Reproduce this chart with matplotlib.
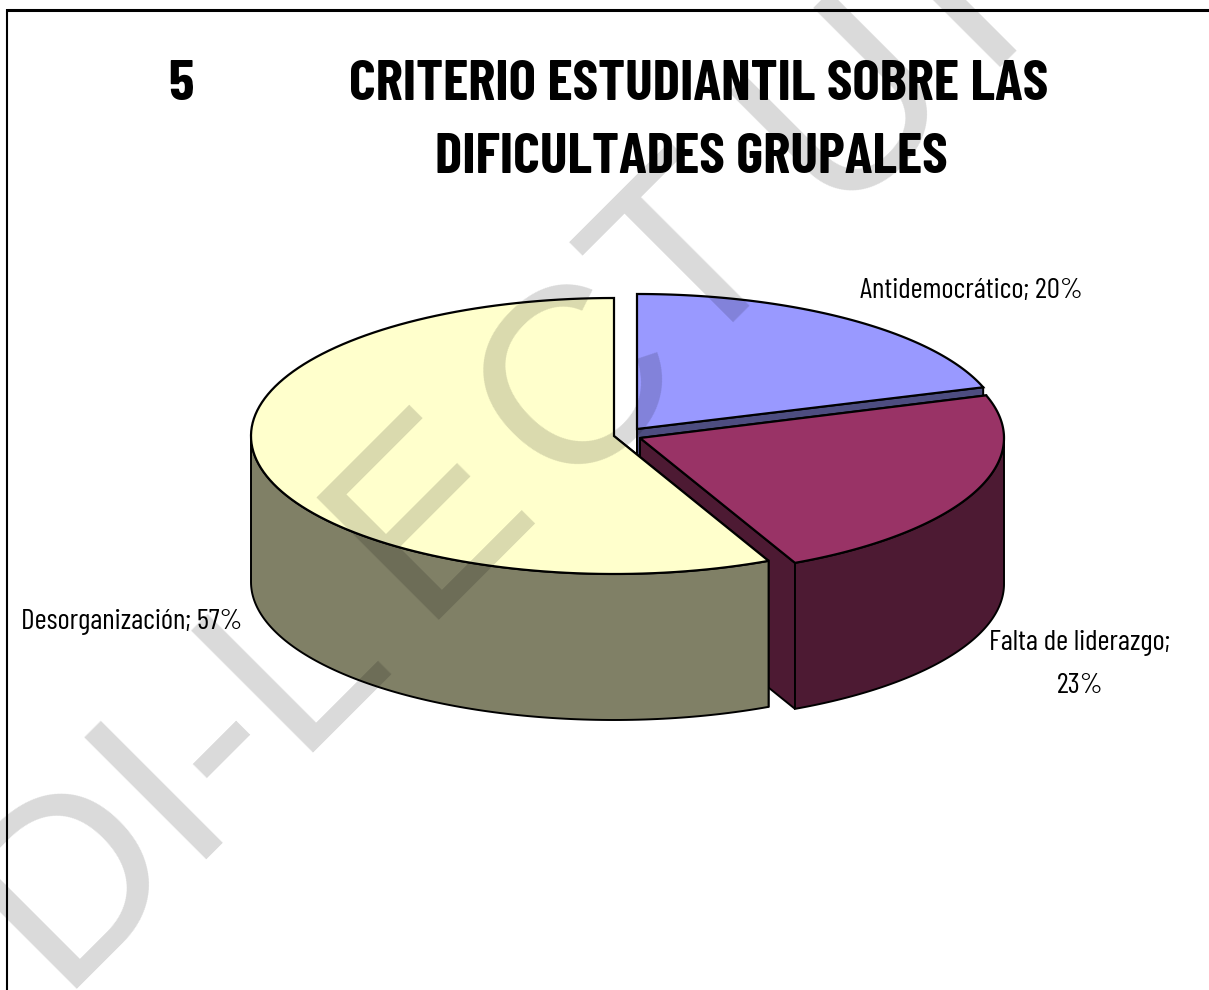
import matplotlib
matplotlib.use("Agg")
import matplotlib.pyplot as plt
import numpy as np
from matplotlib.patches import Polygon

categories = ["Antidemocrático", "Falta de liderazgo", "Desorganización"]
values = [20, 23, 57]
top_colors = ["#9999FF", "#993366", "#FFFFCC"]
side_colors = ["#4D4D80", "#4D1A33", "#808066"]
# centro de cada fatia (fatias separadas), em pixels
centers = [(637, 429), (640, 438), (614, 436)]
radii = [(364, 135), (364, 138), (363, 138)]
depth = 146
W, H = 1209, 990

fig = plt.figure(figsize=(W / 100, H / 100), dpi=100)
ax = fig.add_axes([0, 0, 1, 1])
ax.set_xlim(0, W)
ax.set_ylim(H, 0)
ax.axis("off")

def rim(center, radius, a0, a1, n=120):
    t = np.radians(np.linspace(a0, a1, n))
    return np.column_stack([center[0] + radius[0] * np.sin(t), center[1] - radius[1] * np.cos(t)])

def shifted(pts):
    return pts + np.array([0, depth])

edges = np.cumsum([0] + values) * 3.6
for i in range(3):
    c, r = centers[i], radii[i]
    a0, a1 = edges[i], edges[i + 1]
    arc = rim(c, r, a0, a1)
    apex = np.array([c])
    # parede radial e parede externa, depois o topo
    for a in (a0, a1):
        p = rim(c, r, a, a, 1)
        wall = np.vstack([apex, p, shifted(p), shifted(apex)])
        ax.add_patch(Polygon(wall, fc=side_colors[i], ec="black", lw=1.4, zorder=i * 3 + 1))
    lo, hi = max(a0, 90), min(a1, 270)
    if hi > lo:
        front = rim(c, r, lo, hi)
        ax.add_patch(Polygon(np.vstack([front, shifted(front)[::-1]]), fc=side_colors[i], ec="black", lw=1.4, zorder=i * 3 + 2))
    ax.add_patch(Polygon(np.vstack([apex, arc]), fc=top_colors[i], ec="black", lw=1.6, zorder=i * 3 + 3))

# moldura
ax.plot([7, W], [9.5, 9.5], color="black", lw=2.2, solid_capstyle="butt", zorder=20)
ax.plot([7, 7], [9, H], color="black", lw=1.5, solid_capstyle="butt", zorder=20)

ttl = dict(family=["Barlow Condensed", "Liberation Sans"], weight="bold", color="black", ha="center", va="baseline", fontsize=41.5, zorder=21)
ax.text(181, 100, "5", **ttl)
ax.text(699, 100, "CRITERIO ESTUDIANTIL SOBRE LAS", **ttl)
ax.text(691, 173, "DIFICULTADES GRUPALES", **ttl)

lab = dict(family=["Barlow Condensed", "Liberation Sans"], color="black", ha="center", va="baseline", fontsize=21, zorder=21)
ax.text(971, 298, f"{categories[0]}; {values[0]}%", **lab)
ax.text(1080, 650, f"{categories[1]};", **lab)
ax.text(1080, 693, f"{values[1]}%", **lab)
ax.text(132, 629, f"{categories[2]}; {values[2]}%", **lab)

# marca d'água, letra a letra
wm_parts = ["DI-L", "E", "C", "T", "U", "R"]
wm_x = [56, 418.5, 562.5, 685.5, 832, 979.5]
wm_y = [989, 620.5, 495.5, 364.5, 215, 67.5]
for s, x, y in zip(wm_parts, wm_x, wm_y):
    ax.text(x, y, s, family="Liberation Sans", fontsize=181, color="black", alpha=0.15,
            rotation=45, rotation_mode="anchor", ha="left", va="baseline", zorder=30, clip_on=True)

fig.savefig("out.png", dpi=100)
